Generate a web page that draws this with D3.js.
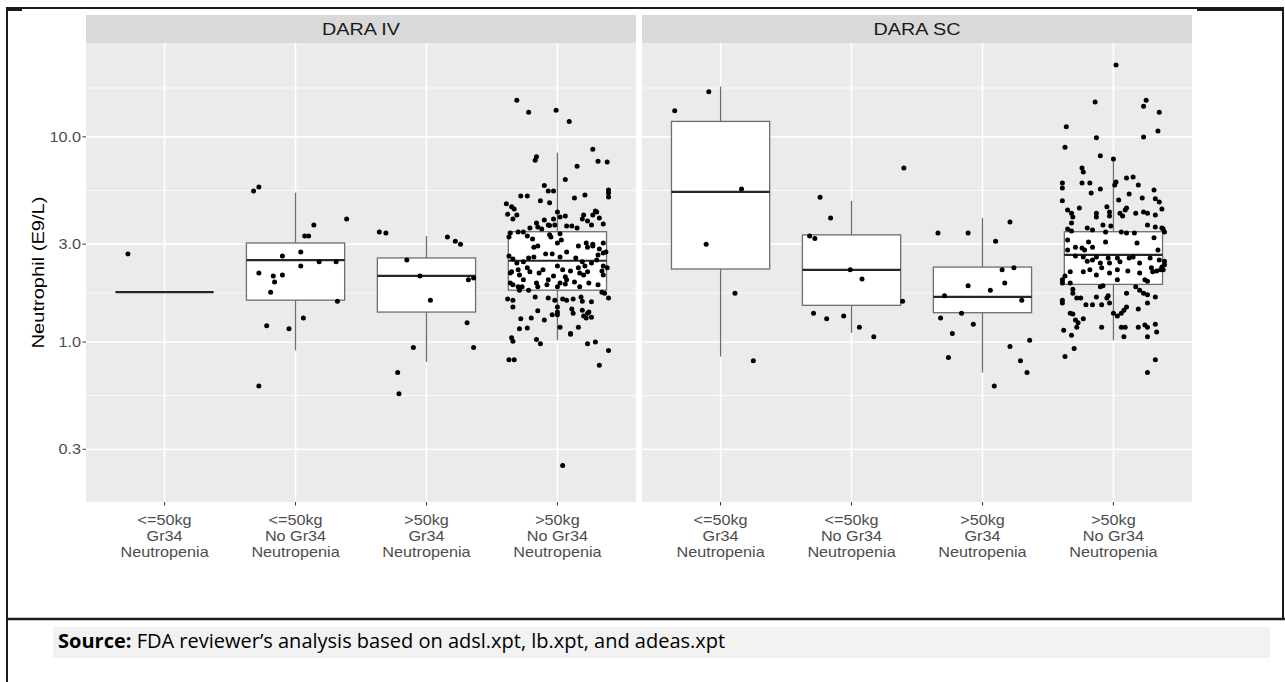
<!DOCTYPE html>
<html>
<head>
<meta charset="utf-8">
<title>Neutrophil by weight and Gr34 neutropenia</title>
<script src="https://d3js.org/d3.v7.min.js"></script>
<style>
  body { margin: 0; background: #fff; }
  svg text { font-family: "Liberation Sans", Arial, sans-serif; }
</style>
</head>
<body>
<div id="chart"></div>
<script>
// facets and groups
var panels = ["DARA IV", "DARA SC"];
var groups = ["le50_gr34", "le50_nogr34", "gt50_gr34", "gt50_nogr34"];
var groupLabels = [
    ["<=50kg", "Gr34", "Neutropenia"],
    ["<=50kg", "No Gr34", "Neutropenia"],
    [">50kg", "Gr34", "Neutropenia"],
    [">50kg", "No Gr34", "Neutropenia"]
];
var yTicks = [0.3, 1, 3, 10];
var yMinor = [0.548, 1.732, 5.477, 17.32];
var yLimits = [0.166, 28.7];
var yTitle = "Neutrophil (E9/L)";
var sourceBold = "Source:";
var sourceText = " FDA reviewer\u2019s analysis based on adsl.xpt, lb.xpt, and adeas.xpt";

// box stats: [lower whisker, Q1, median, Q3, upper whisker]
var ivBoxes = [
    [1.75, 1.75, 1.75, 1.75, 1.75],
    [0.91, 1.60, 2.51, 3.04, 5.35],
    [0.80, 1.40, 2.10, 2.57, 3.29],
    [1.02, 1.79, 2.49, 3.45, 8.38]
];
var scBoxes = [
    [0.85, 2.27, 5.39, 11.9, 17.6],
    [1.11, 1.51, 2.25, 3.33, 4.87],
    [0.71, 1.39, 1.66, 2.32, 4.03],
    [1.02, 1.91, 2.66, 3.45, 8.0]
];

// jittered points: [offset in group steps, neutrophil E9/L]
var ivLe50Gr34 = [[-0.28, 2.69]];
var ivLe50NoGr34 = [
    [-0.32, 5.45], [-0.28, 5.7], [0.14, 3.72], [0.07, 3.29], [0.10, 3.29], [-0.10, 2.63],
    [0.04, 2.75], [0.18, 2.46], [0.04, 2.35], [-0.28, 2.17], [-0.17, 2.10], [-0.10, 2.12],
    [-0.16, 1.96], [-0.19, 1.75], [0.06, 1.31], [-0.22, 1.20], [-0.05, 1.16], [-0.28, 0.61],
    [0.31, 2.46], [0.32, 1.58], [0.39, 3.98]
];
var ivGt50Gr34 = [
    [-0.36, 3.44], [-0.31, 3.40], [-0.15, 2.51], [-0.05, 2.10], [0.16, 3.25], [0.22, 3.10],
    [0.26, 3.00], [0.03, 1.60], [0.32, 2.01], [0.36, 2.05], [0.31, 1.24], [0.36, 0.94],
    [-0.10, 0.94], [-0.22, 0.71], [-0.21, 0.56]
];
var ivGt50NoGr34 = [
    [-0.31, 15.1], [-0.22, 13.2], [-0.01, 13.5], [0.09, 11.9], [0.27, 8.7], [0.31, 7.6],
    [0.38, 7.55], [-0.16, 8.0], [-0.17, 7.7], [0.15, 7.2], [0.06, 6.2], [-0.10, 5.8],
    [-0.07, 5.45], [-0.03, 5.45], [-0.28, 5.15], [-0.23, 5.15], [-0.13, 4.88], [-0.06, 4.77],
    [0.13, 5.04], [0.21, 5.21], [0.39, 5.51], [0.39, 5.33], [0.39, 5.10], [-0.39, 4.72],
    [-0.35, 4.56], [-0.33, 4.45], [-0.38, 4.2], [-0.31, 4.16], [-0.34, 3.98], [0.00, 4.3],
    [-0.03, 3.98], [0.02, 4.07], [0.06, 4.12], [-0.16, 3.8], [-0.10, 3.94], [-0.07, 3.72],
    [-0.06, 3.70], [-0.15, 3.64], [-0.12, 3.56], [0.20, 4.16], [0.19, 3.98], [0.23, 3.89],
    [0.29, 4.35], [0.30, 4.30], [0.27, 4.16], [0.32, 4.03], [0.26, 3.72], [0.35, 3.76],
    [0.11, 3.68], [0.07, 3.68], [0.15, 3.60], [-0.02, 3.72], [-0.21, 3.60], [-0.30, 3.44],
    [-0.26, 3.44], [-0.36, 3.40], [-0.37, 3.25], [-0.23, 3.29], [-0.19, 3.18], [-0.06, 3.33],
    [-0.05, 3.25], [0.02, 3.37], [0.03, 3.14], [0.00, 3.04], [-0.18, 2.90], [-0.15, 2.94],
    [0.16, 2.94], [0.22, 3.04], [0.23, 2.90], [0.27, 2.94], [0.27, 3.00], [0.35, 3.04],
    [0.37, 2.75], [0.35, 2.72], [0.31, 2.66], [0.32, 2.84], [-0.37, 2.63], [-0.34, 2.54],
    [-0.31, 2.43], [-0.26, 2.46], [-0.22, 2.57], [-0.18, 2.60], [-0.09, 2.69], [-0.04, 2.69],
    [0.02, 2.60], [0.07, 2.75], [0.14, 2.57], [0.19, 2.46], [0.21, 2.35], [0.26, 2.43],
    [0.30, 2.51], [0.35, 2.35], [0.38, 2.30], [-0.35, 2.20], [-0.36, 2.17], [-0.30, 2.25],
    [-0.29, 2.12], [-0.23, 2.30], [-0.21, 2.20], [-0.14, 2.17], [-0.11, 2.25], [-0.03, 2.10],
    [0.00, 2.35], [0.04, 2.25], [0.06, 2.08], [0.10, 2.22], [0.17, 2.17], [0.16, 2.30],
    [0.20, 2.12], [0.23, 2.20], [0.34, 2.22], [0.35, 2.12], [-0.36, 1.94], [-0.34, 1.90],
    [-0.30, 1.86], [-0.27, 1.86], [-0.29, 1.79], [-0.26, 2.01], [-0.16, 1.94], [-0.15, 1.86],
    [-0.08, 1.90], [-0.07, 2.01], [0.00, 1.86], [0.02, 1.94], [0.06, 1.92], [0.07, 2.01],
    [0.13, 1.96], [0.17, 1.86], [0.24, 1.94], [0.31, 1.90], [0.34, 1.75], [0.36, 1.73],
    [-0.22, 1.79], [-0.38, 1.62], [-0.34, 1.60], [-0.34, 1.48], [-0.17, 1.66], [-0.07, 1.64],
    [-0.02, 1.60], [0.00, 1.48], [0.04, 1.62], [0.07, 1.60], [0.12, 1.62], [0.18, 1.66],
    [0.19, 1.58], [0.26, 1.57], [0.39, 1.64], [0.00, 1.40], [0.00, 1.36], [-0.15, 1.42],
    [-0.28, 1.30], [-0.20, 1.31], [-0.10, 1.28], [-0.04, 1.36], [0.11, 1.45], [0.12, 1.38],
    [0.19, 1.43], [0.20, 1.34], [0.23, 1.38], [0.24, 1.40], [0.26, 1.32], [0.22, 1.31],
    [-0.29, 1.16], [-0.23, 1.17], [0.02, 1.18], [0.10, 1.09], [0.10, 1.10], [0.16, 1.18],
    [-0.35, 1.05], [-0.34, 1.01], [-0.16, 1.03], [-0.13, 0.98], [0.23, 0.98], [0.29, 1.00],
    [0.39, 0.91], [-0.37, 0.82], [-0.33, 0.82], [0.32, 0.77], [0.04, 0.25]
];
var scLe50Gr34 = [
    [-0.35, 13.4], [-0.09, 16.6], [0.16, 5.57], [-0.11, 3.0], [0.11, 1.73], [0.25, 0.81]
];
var scLe50NoGr34 = [
    [-0.24, 5.08], [-0.16, 4.03], [-0.32, 3.29], [-0.28, 3.2], [0.40, 7.06], [-0.01, 2.25],
    [0.08, 2.03], [0.39, 1.58], [-0.29, 1.38], [-0.19, 1.30], [-0.06, 1.34], [0.06, 1.18],
    [0.17, 1.06]
];
var scGt50Gr34 = [
    [-0.34, 3.40], [-0.11, 3.40], [0.21, 3.85], [0.10, 3.10], [-0.29, 1.68], [-0.11, 1.88],
    [0.06, 1.79], [0.17, 1.94], [0.30, 1.60], [0.24, 2.30], [0.15, 2.25], [-0.32, 1.31],
    [-0.16, 1.38], [-0.23, 1.10], [-0.07, 1.22], [-0.26, 0.84], [0.21, 0.95], [0.29, 0.81],
    [0.36, 1.02], [0.34, 0.71], [0.09, 0.61]
];
var scGt50NoGr34 = [
    [0.02, 22.4], [-0.14, 14.8], [0.25, 15.1], [0.23, 14.1], [0.35, 13.2], [-0.36, 11.2],
    [-0.13, 9.9], [0.23, 10.0], [0.34, 10.7], [-0.37, 8.9], [-0.10, 8.1], [0.00, 7.8],
    [-0.24, 7.06], [-0.23, 6.74], [-0.39, 5.96], [-0.39, 5.64], [-0.24, 5.96], [-0.18, 5.96],
    [-0.17, 5.33], [-0.10, 5.57], [0.02, 6.03], [0.01, 5.83], [0.10, 6.31], [0.15, 6.38],
    [0.19, 5.83], [0.31, 5.51], [-0.39, 4.88], [0.04, 4.93], [0.12, 5.27], [0.22, 5.04],
    [0.32, 4.99], [0.35, 4.82], [-0.35, 4.40], [-0.32, 4.25], [-0.31, 4.07], [-0.26, 4.50],
    [-0.13, 4.25], [-0.13, 4.07], [-0.05, 4.56], [-0.03, 4.30], [-0.03, 4.12], [0.05, 4.25],
    [0.09, 4.40], [0.10, 4.50], [0.07, 4.12], [0.17, 4.25], [0.23, 4.30], [0.26, 4.25],
    [0.32, 4.16], [0.37, 4.45], [-0.32, 3.80], [-0.35, 3.56], [-0.32, 3.48], [-0.20, 3.60],
    [-0.16, 3.52], [-0.08, 3.72], [-0.06, 3.44], [-0.02, 3.68], [0.06, 3.44], [0.10, 3.40],
    [0.16, 3.40], [0.26, 3.72], [0.32, 3.64], [0.37, 3.60], [0.39, 3.44], [0.38, 3.56],
    [-0.35, 3.14], [-0.29, 2.90], [-0.24, 2.87], [-0.22, 2.81], [-0.16, 2.90], [-0.35, 2.81],
    [-0.19, 3.07], [-0.06, 3.07], [0.18, 3.04], [0.31, 3.22], [0.34, 2.81], [-0.29, 2.63],
    [-0.23, 2.60], [-0.20, 2.48], [-0.16, 2.51], [-0.13, 2.60], [-0.10, 2.43], [-0.04, 2.57],
    [-0.03, 2.43], [0.03, 2.57], [0.05, 2.46], [0.12, 2.57], [0.15, 2.60], [0.20, 2.43],
    [0.28, 2.57], [0.35, 2.51], [0.39, 2.48], [0.39, 2.38], [0.37, 2.32], [0.38, 2.25],
    [0.36, 2.25], [0.33, 2.22], [0.29, 2.30], [0.30, 2.20], [-0.37, 2.10], [-0.39, 2.01],
    [-0.33, 2.20], [-0.23, 2.20], [-0.18, 2.25], [-0.09, 2.30], [-0.03, 2.17], [0.03, 2.25],
    [0.11, 2.22], [0.20, 2.17], [0.24, 2.01], [0.26, 1.98], [-0.13, 2.12], [-0.39, 1.94],
    [-0.33, 1.94], [-0.31, 1.81], [-0.10, 1.86], [-0.08, 1.88], [0.03, 2.01], [0.17, 1.86],
    [0.20, 1.79], [0.23, 1.73], [0.26, 1.70], [-0.31, 1.73], [-0.28, 1.64], [-0.39, 1.60],
    [-0.39, 1.55], [-0.25, 1.64], [-0.21, 1.52], [-0.16, 1.52], [-0.13, 1.66], [-0.09, 1.52],
    [-0.05, 1.64], [-0.04, 1.68], [-0.03, 1.55], [0.00, 1.38], [0.03, 1.34], [0.06, 1.38],
    [0.08, 1.43], [0.10, 1.48], [0.10, 1.73], [0.19, 1.45], [0.26, 1.55], [0.32, 1.66],
    [-0.33, 1.38], [-0.31, 1.37], [-0.29, 1.28], [-0.27, 1.24], [-0.28, 1.18], [-0.23, 1.30],
    [-0.09, 1.18], [0.06, 1.18], [0.09, 1.18], [0.19, 1.18], [0.24, 1.21], [0.26, 1.18],
    [0.32, 1.22], [0.33, 1.12], [-0.38, 1.14], [-0.32, 1.08], [0.08, 1.06], [0.26, 1.06],
    [-0.30, 0.93], [-0.37, 0.85], [0.32, 0.82], [0.26, 0.71]
];

var panelBoxes = [ivBoxes, scBoxes];
var panelPoints = [
    [ivLe50Gr34, ivLe50NoGr34, ivGt50Gr34, ivGt50NoGr34],
    [scLe50Gr34, scLe50NoGr34, scGt50Gr34, scGt50NoGr34]
];

// layout
var width = 1285, height = 682;
var stripTop = 15, panelTop = 43, panelBottom = 502;
var panelRanges = [[86, 636], [642, 1192]];

var svg = d3.select("#chart").append("svg")
    .attr("width", width)
    .attr("height", height)
    .style("display", "block");

svg.append("rect").attr("width", width).attr("height", height).attr("fill", "#fff");

var y = d3.scaleLog().domain(yLimits).range([panelBottom, panelTop]);

panels.forEach(function(name, p) {
    var x = d3.scalePoint()
        .domain(groups)
        .range(panelRanges[p])
        .padding(0.6);
    var step = x.step();
    var boxW = step * 0.75;
    var g = svg.append("g");

    // panel background + grid
    g.append("rect")
        .attr("x", panelRanges[p][0]).attr("y", panelTop)
        .attr("width", panelRanges[p][1] - panelRanges[p][0])
        .attr("height", panelBottom - panelTop)
        .attr("fill", "#EBEBEB");

    g.selectAll(".minor").data(yMinor).enter().append("line")
        .attr("x1", panelRanges[p][0]).attr("x2", panelRanges[p][1])
        .attr("y1", d => y(d)).attr("y2", d => y(d))
        .attr("stroke", "#fff").attr("stroke-width", 0.8);

    g.selectAll(".major").data(yTicks).enter().append("line")
        .attr("x1", panelRanges[p][0]).attr("x2", panelRanges[p][1])
        .attr("y1", d => y(d)).attr("y2", d => y(d))
        .attr("stroke", "#fff").attr("stroke-width", 1.6);

    g.selectAll(".vgrid").data(groups).enter().append("line")
        .attr("x1", d => x(d)).attr("x2", d => x(d))
        .attr("y1", panelTop).attr("y2", panelBottom)
        .attr("stroke", "#fff").attr("stroke-width", 1.6);

    // strip
    g.append("rect")
        .attr("x", panelRanges[p][0]).attr("y", stripTop)
        .attr("width", panelRanges[p][1] - panelRanges[p][0])
        .attr("height", panelTop - stripTop)
        .attr("fill", "#D9D9D9");
    g.append("text")
        .attr("transform", "translate(" + (panelRanges[p][0] + panelRanges[p][1]) / 2 + "," +
            ((stripTop + panelTop) / 2 + 6) + ") scale(1.2,1)")
        .attr("text-anchor", "middle")
        .attr("font-size", 16.5)
        .attr("fill", "#1A1A1A")
        .text(name);

    // boxplots
    var boxes = panelBoxes[p];
    groups.forEach(function(grp, i) {
        var b = boxes[i], cx = x(grp);
        g.append("line")
            .attr("x1", cx).attr("x2", cx)
            .attr("y1", y(b[0])).attr("y2", y(b[1]))
            .attr("stroke", "#6e6e6e").attr("stroke-width", 1.3);
        g.append("line")
            .attr("x1", cx).attr("x2", cx)
            .attr("y1", y(b[3])).attr("y2", y(b[4]))
            .attr("stroke", "#6e6e6e").attr("stroke-width", 1.3);
        g.append("rect")
            .attr("x", cx - boxW / 2).attr("y", y(b[3]))
            .attr("width", boxW).attr("height", y(b[1]) - y(b[3]))
            .attr("fill", "#fff")
            .attr("stroke", "#6e6e6e").attr("stroke-width", 1.3);
        g.append("line")
            .attr("x1", cx - boxW / 2).attr("x2", cx + boxW / 2)
            .attr("y1", y(b[2])).attr("y2", y(b[2]))
            .attr("stroke", "#262626").attr("stroke-width", 2.2);
    });

    // jittered points
    groups.forEach(function(grp, i) {
        g.selectAll(null).data(panelPoints[p][i]).enter().append("circle")
            .attr("cx", d => x(grp) + d[0] * step)
            .attr("cy", d => y(d[1]))
            .attr("r", 2.5)
            .attr("fill", "#000");
    });

    // x axis ticks + labels
    var xa = g.selectAll(".xt").data(groups).enter().append("g")
        .attr("transform", d => "translate(" + x(d) + "," + panelBottom + ")");
    xa.append("line").attr("y1", 0).attr("y2", 3.5).attr("stroke", "#333").attr("stroke-width", 1);
    xa.each(function(d, i) {
        var t = d3.select(this).append("text")
            .attr("transform", "scale(1.08,1)")
            .attr("text-anchor", "middle")
            .attr("font-size", 15)
            .attr("fill", "#4D4D4D");
        groupLabels[i].forEach(function(line, k) {
            t.append("tspan").attr("x", 0).attr("y", 23 + k * 16).text(line);
        });
    });
});

// y axis
var ya = svg.append("g").selectAll("g").data(yTicks).enter().append("g")
    .attr("transform", d => "translate(81," + y(d) + ")");
svg.selectAll(null).data(yTicks).enter().append("line")
    .attr("x1", 82.5).attr("x2", 86)
    .attr("y1", d => y(d)).attr("y2", d => y(d))
    .attr("stroke", "#333");
ya.append("text")
    .attr("transform", "scale(1.12,1)")
    .attr("dy", "0.35em")
    .attr("text-anchor", "end")
    .attr("font-size", 14.5)
    .attr("fill", "#4D4D4D")
    .text(d3.format(".1f"));

svg.append("text")
    .attr("transform", "translate(44," + (panelTop + panelBottom) / 2 + ") rotate(-90)")
    .attr("text-anchor", "middle")
    .attr("font-size", 17)
    .attr("textLength", 152)
    .attr("lengthAdjust", "spacingAndGlyphs")
    .attr("fill", "#000")
    .text(yTitle);

// table frame around the figure
var frame = svg.append("g").attr("stroke", "#1a1a1a").attr("stroke-width", 2);
frame.append("line").attr("x1", 7).attr("x2", 1284).attr("y1", 8).attr("y2", 8);
frame.append("line").attr("x1", 1197).attr("x2", 1284).attr("y1", 10).attr("y2", 10);
frame.append("line").attr("x1", 7).attr("x2", 22).attr("y1", 10).attr("y2", 10);
frame.append("line").attr("x1", 7).attr("x2", 7).attr("y1", 7).attr("y2", 682);
frame.append("line").attr("x1", 1283).attr("x2", 1283).attr("y1", 7).attr("y2", 620);
frame.append("line").attr("x1", 7).attr("x2", 1285).attr("y1", 619).attr("y2", 619).attr("stroke-width", 2.5);

// source note
svg.append("rect")
    .attr("x", 53).attr("y", 627).attr("width", 1217).attr("height", 31)
    .attr("fill", "#F2F2F2");
var src = svg.append("text")
    .attr("x", 58).attr("y", 648)
    .attr("font-size", 20)
    .attr("fill", "#000")
    .style("font-family", "'Open Sans', sans-serif");
src.append("tspan").attr("font-weight", "bold").text(sourceBold);
src.append("tspan").text(sourceText);
</script>
</body>
</html>
